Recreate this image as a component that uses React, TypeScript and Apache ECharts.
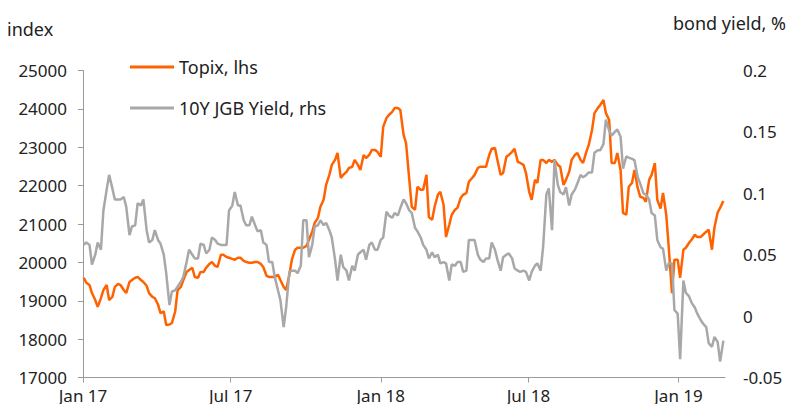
import React, { useEffect, useRef } from "react";
import * as echarts from "echarts";

const seriesNames = ["Topix, lhs", "10Y JGB Yield, rhs"];

// observations twice a week (Monday, Thursday) starting Mon 2 Jan 2017
const startDate = "2017-01-02";

const topix = [
  19600, 19470, 19410, 19200, 19020, 18840, 19070, 19280, 19410, 19020,
  19100, 19360, 19440, 19410, 19280, 19200, 19490, 19540, 19600, 19620,
  19540, 19490, 19390, 19200, 19100, 19070, 18900, 18680, 18720, 18370,
  18380, 18420, 18720, 19280, 19360, 19540, 19750, 19800, 19860, 19620,
  19600, 19750, 19750, 19860, 19960, 20010, 19910, 19880, 20200, 20200,
  20140, 20120, 20090, 20070, 20120, 20120, 20040, 20010, 19990, 19990,
  20010, 20010, 19960, 19880, 19650, 19620, 19620, 19620, 19680, 19540,
  19360, 19280, 19680, 20070, 20330, 20380, 20380, 20380, 20430, 20590,
  20800, 21030, 21160, 21450, 21630, 22020, 22280, 22540, 22670, 22850,
  22200, 22280, 22360, 22460, 22490, 22670, 22540, 22410, 22800, 22720,
  22800, 22930, 22930, 22880, 22750, 23530, 23760, 23840, 23920, 24020,
  24020, 23970, 23320, 23110, 22150, 21450, 21370, 21970, 21890, 21890,
  22280, 21180, 21110, 21450, 21760, 21840, 21500, 20660, 20980, 21240,
  21370, 21420, 21680, 21760, 21810, 22100, 22200, 22280, 22460, 22490,
  22490, 22490, 22800, 22960, 22980, 22670, 22280, 22330, 22750, 22800,
  22880, 22960, 22620, 22590, 22540, 22330, 21840, 21630, 22150, 22070,
  22670, 22670, 22590, 22670, 22620, 22670, 22540, 22490, 22020, 22150,
  22360, 22670, 22800, 22850, 22670, 22590, 22880, 23060, 23450, 23890,
  24020, 24100, 24230, 23890, 23710, 22590, 22590, 22850, 22410, 21290,
  21240, 21970, 22070, 22410, 21940, 21710, 21680, 21580, 22150, 22280,
  22590, 21630, 21400, 21810, 21240, 20400, 19200, 20070, 20070, 19600,
  20330, 20380, 20510, 20590, 20720, 20660, 20660, 20720, 20800, 20850,
  20330, 20900, 21300, 21420, 21600,
];

const jgbYield = [
  0.058, 0.06, 0.058, 0.042, 0.05, 0.06, 0.054, 0.086, 0.103, 0.115,
  0.104, 0.095, 0.095, 0.095, 0.097, 0.089, 0.066, 0.073, 0.074, 0.092,
  0.09, 0.095, 0.07, 0.06, 0.062, 0.07, 0.062, 0.059, 0.05, 0.035,
  0.009, 0.02, 0.021, 0.024, 0.028, 0.032, 0.044, 0.054, 0.05, 0.047,
  0.047, 0.059, 0.058, 0.051, 0.054, 0.064, 0.062, 0.059, 0.058, 0.058,
  0.058, 0.086, 0.09, 0.101, 0.09, 0.09, 0.078, 0.074, 0.074, 0.081,
  0.074, 0.069, 0.07, 0.06, 0.058, 0.044, 0.044, 0.032, 0.021, 0.013,
  -0.009, 0.007, 0.036, 0.037, 0.037, 0.035, 0.041, 0.078, 0.078, 0.048,
  0.058, 0.073, 0.074, 0.078, 0.074, 0.076, 0.07, 0.064, 0.046, 0.029,
  0.05, 0.04, 0.037, 0.029, 0.041, 0.037, 0.05, 0.052, 0.054, 0.046,
  0.058, 0.06, 0.054, 0.054, 0.062, 0.064, 0.085, 0.082, 0.08, 0.084,
  0.082, 0.088, 0.095, 0.092, 0.086, 0.084, 0.072, 0.069, 0.064, 0.058,
  0.054, 0.047, 0.052, 0.048, 0.05, 0.043, 0.044, 0.043, 0.029, 0.042,
  0.041, 0.044, 0.044, 0.036, 0.037, 0.062, 0.062, 0.062, 0.05, 0.046,
  0.044, 0.047, 0.047, 0.06, 0.054, 0.046, 0.037, 0.048, 0.05, 0.051,
  0.047, 0.039, 0.037, 0.036, 0.037, 0.036, 0.029, 0.036, 0.041, 0.043,
  0.037, 0.056, 0.099, 0.104, 0.07, 0.127, 0.107, 0.101, 0.099, 0.105,
  0.09, 0.099, 0.103, 0.108, 0.115, 0.113, 0.115, 0.117, 0.117, 0.133,
  0.135, 0.135, 0.14, 0.16, 0.151, 0.147, 0.15, 0.152, 0.146, 0.12,
  0.13, 0.129, 0.128, 0.127, 0.113, 0.108, 0.1, 0.099, 0.095, 0.084,
  0.082, 0.062, 0.056, 0.055, 0.037, 0.043, 0.043, 0.005, 0.002, -0.035,
  0.029, 0.019, 0.016, 0.011, 0.007, 0.002, -0.003, -0.006, -0.009, -0.022,
  -0.025, -0.017, -0.021, -0.037, -0.02,
];

const tickDates = ["2017-01-01", "2017-07-01", "2018-01-01", "2018-07-01", "2019-01-01"];
const tickLabels = ["Jan 17", "Jul 17", "Jan 18", "Jul 18", "Jan 19"];
const axisStart = "2017-01-01";
const axisEnd = "2019-02-27";

const leftTicks = { min: 17000, max: 25000, interval: 1000 };
const rightTicks = { min: -0.05, max: 0.2, interval: 0.05 };

const DAY = 86400000;
const ts = (s: string) => Date.parse(s + "T00:00:00Z");

const FONT = "'Noto Sans', sans-serif";

export default function App() {
  const ref = useRef<HTMLDivElement>(null);
  useEffect(() => {
    if (!ref.current) return;
    const chart = echarts.init(ref.current, undefined, { renderer: "svg" });
    const t0 = ts(startDate);
    const dateAt = (k: number) => t0 + (Math.floor(k / 2) * 7 + (k % 2) * 3) * DAY;
    const tickVals = tickDates.map(ts);
    chart.setOption({
      animation: false,
      textStyle: { fontFamily: FONT },
      grid: { left: 83, right: 75, top: 70.5, bottom: 34.5, containLabel: false },
      legend: {
        data: seriesNames,
        orient: "vertical",
        left: 130,
        top: 57,
        padding: 0,
        icon: "rect",
        itemWidth: 44,
        itemHeight: 3,
        itemGap: 21,
        textStyle: { fontSize: 18, color: "#222", lineHeight: 20, fontFamily: FONT },
      },
      graphic: [
        {
          type: "text",
          left: 7,
          top: 20,
          style: { text: "index", fontSize: 18, fill: "#222", fontFamily: FONT },
        },
        {
          type: "text",
          right: 14,
          top: 14,
          style: { text: "bond yield, %", fontSize: 18, fill: "#222", fontFamily: FONT },
        },
      ],
      xAxis: {
        type: "value",
        min: ts(axisStart),
        max: ts(axisEnd),
        axisLine: { show: true, onZero: false, lineStyle: { color: "#9a9a9a", width: 1 } },
        axisTick: { show: true, customValues: tickVals, length: 5, lineStyle: { color: "#9a9a9a" } },
        axisLabel: {
          customValues: tickVals,
          formatter: (v: number) => {
            const k = tickVals.indexOf(v);
            return k >= 0 ? tickLabels[k] : "";
          },
          fontSize: 17,
          color: "#222",
          margin: 9,
          fontFamily: FONT,
        },
        splitLine: { show: false },
      },
      yAxis: [
        {
          type: "value",
          ...leftTicks,
          axisLine: { show: true, lineStyle: { color: "#9a9a9a", width: 1 } },
          axisTick: { show: true, length: 5, lineStyle: { color: "#9a9a9a" } },
          axisLabel: {
            fontSize: 17,
            color: "#222",
            margin: 16,
            fontFamily: FONT,
            formatter: (v: number) => String(v),
          },
          splitLine: { show: false },
        },
        {
          type: "value",
          position: "right",
          ...rightTicks,
          axisLine: { show: false },
          axisTick: { show: false },
          axisLabel: {
            fontSize: 17,
            color: "#222",
            margin: 18,
            fontFamily: FONT,
            formatter: (v: number) => String(Math.round(v * 100) / 100),
          },
          splitLine: { show: false },
        },
      ],
      series: [
        {
          name: seriesNames[0],
          type: "line",
          yAxisIndex: 0,
          symbol: "none",
          data: topix.map((v, k) => [dateAt(k), v]),
          lineStyle: { color: "#ff6200", width: 2.5 },
          itemStyle: { color: "#ff6200" },
        },
        {
          name: seriesNames[1],
          type: "line",
          yAxisIndex: 1,
          symbol: "none",
          data: jgbYield.map((v, k) => [dateAt(k), v]),
          lineStyle: { color: "#a8a8a8", width: 2.5 },
          itemStyle: { color: "#a8a8a8" },
        },
      ],
    });
    return () => chart.dispose();
  }, []);
  return <div ref={ref} style={{ width: 800, height: 412, margin: -8 }} />;
}
